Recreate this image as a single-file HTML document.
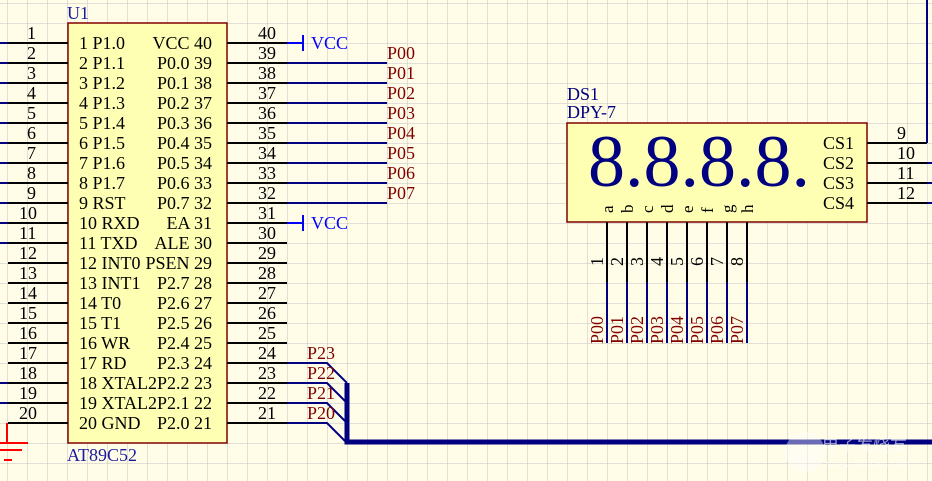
<!DOCTYPE html>
<html><head><meta charset="utf-8"><style>
html,body{margin:0;padding:0;background:#fffde8;}
svg{display:block;}
text{font-family:"Liberation Serif",serif;}
</style></head><body>
<svg width="932" height="481" viewBox="0 0 932 481" xmlns="http://www.w3.org/2000/svg" font-family="Liberation Serif, serif">
<defs>
<pattern id="g" x="7" y="3" width="20" height="20" patternUnits="userSpaceOnUse">
<path d="M0 0H20M0 0V20" stroke="#c4c4c4" stroke-width="1" fill="none"/>
</pattern>
</defs>
<rect width="932" height="481" fill="#fffde8"/>
<rect width="932" height="481" fill="url(#g)"/>

<rect x="68" y="23" width="159" height="420" fill="#ffffb4" stroke="#800000" stroke-width="1.5"/>
<text x="67" y="19" font-size="18" fill="#1a1aa0">U1</text>
<text x="67" y="461" font-size="18" fill="#1a1aa0">AT89C52</text>

<g stroke="#000" stroke-width="2">
<path d="M8 43H68M8 63H68M8 83H68M8 103H68M8 123H68M8 143H68M8 163H68M8 183H68M8 203H68M8 223H68M8 243H68M8 263H68M8 283H68M8 303H68M8 323H68M8 343H68M8 363H68M8 383H68M8 403H68M8 423H68"/>
</g>
<g stroke="#000080" stroke-width="2">
<path d="M0 43H8M0 63H8M0 83H8M0 103H8M0 123H8M0 143H8M0 163H8M0 183H8M0 203H8M0 223H8M0 243H8M0 383H8M0 403H8"/>
</g>
<g font-size="18" fill="#000">
<text x="27" y="39">1</text><text x="27" y="59">2</text><text x="27" y="79">3</text><text x="27" y="99">4</text><text x="27" y="119">5</text><text x="27" y="139">6</text><text x="27" y="159">7</text><text x="27" y="179">8</text><text x="27" y="199">9</text><text x="19" y="219">10</text><text x="19" y="239">11</text><text x="19" y="259">12</text><text x="19" y="279">13</text><text x="19" y="299">14</text><text x="19" y="319">15</text><text x="19" y="339">16</text><text x="19" y="359">17</text><text x="19" y="379">18</text><text x="19" y="399">19</text><text x="19" y="419">20</text>
</g>
<g font-size="18" fill="#000">
<text x="79" y="49">1 P1.0</text><text x="79" y="69">2 P1.1</text><text x="79" y="89">3 P1.2</text><text x="79" y="109">4 P1.3</text><text x="79" y="129">5 P1.4</text><text x="79" y="149">6 P1.5</text><text x="79" y="169">7 P1.6</text><text x="79" y="189">8 P1.7</text><text x="79" y="209">9 RST</text><text x="79" y="229">10 RXD</text><text x="79" y="249">11 TXD</text><text x="79" y="269">12 INT0</text><text x="79" y="289">13 INT1</text><text x="79" y="309">14 T0</text><text x="79" y="329">15 T1</text><text x="79" y="349">16 WR</text><text x="79" y="369">17 RD</text><text x="79" y="389">18 XTAL2</text><text x="79" y="409">19 XTAL2</text><text x="79" y="429">20 GND</text>
</g>
<g font-size="18" fill="#000" text-anchor="end">
<text x="212" y="49">VCC 40</text><text x="212" y="69">P0.0 39</text><text x="212" y="89">P0.1 38</text><text x="212" y="109">P0.2 37</text><text x="212" y="129">P0.3 36</text><text x="212" y="149">P0.4 35</text><text x="212" y="169">P0.5 34</text><text x="212" y="189">P0.6 33</text><text x="212" y="209">P0.7 32</text><text x="212" y="229">EA 31</text><text x="212" y="249">ALE 30</text><text x="212" y="269">PSEN 29</text><text x="212" y="289">P2.7 28</text><text x="212" y="309">P2.6 27</text><text x="212" y="329">P2.5 26</text><text x="212" y="349">P2.4 25</text><text x="212" y="369">P2.3 24</text><text x="212" y="389">P2.2 23</text><text x="212" y="409">P2.1 22</text><text x="212" y="429">P2.0 21</text>
</g>

<g stroke="#000" stroke-width="2">
<path d="M227 43H287M227 63H287M227 83H287M227 103H287M227 123H287M227 143H287M227 163H287M227 183H287M227 203H287M227 223H287M227 243H287M227 263H287M227 283H287M227 303H287M227 323H287M227 343H287M227 363H287M227 383H287M227 403H287M227 423H287"/>
</g>
<g font-size="18" fill="#000">
<text x="258" y="39">40</text><text x="258" y="59">39</text><text x="258" y="79">38</text><text x="258" y="99">37</text><text x="258" y="119">36</text><text x="258" y="139">35</text><text x="258" y="159">34</text><text x="258" y="179">33</text><text x="258" y="199">32</text><text x="258" y="219">31</text><text x="258" y="239">30</text><text x="258" y="259">29</text><text x="258" y="279">28</text><text x="258" y="299">27</text><text x="258" y="319">26</text><text x="258" y="339">25</text><text x="258" y="359">24</text><text x="258" y="379">23</text><text x="258" y="399">22</text><text x="258" y="419">21</text>
</g>
<g stroke="#0000ff" stroke-width="2">
<path d="M287 43H303M303 35V51M287 223H303M303 215V231"/>
</g>
<text x="311" y="49" font-size="18" fill="#0000ff">VCC</text>
<text x="311" y="229" font-size="18" fill="#0000ff">VCC</text>
<g stroke="#000080" stroke-width="2">
<path d="M287 63H387M287 83H387M287 103H387M287 123H387M287 143H387M287 163H387M287 183H387M287 203H387"/>
</g>
<g font-size="18" fill="#800000">
<text x="387" y="59">P00</text><text x="387" y="79">P01</text><text x="387" y="99">P02</text><text x="387" y="119">P03</text><text x="387" y="139">P04</text><text x="387" y="159">P05</text><text x="387" y="179">P06</text><text x="387" y="199">P07</text>
</g>
<g stroke="#000080" stroke-width="2" fill="none">
<path d="M287 363H327L347 383M287 383H327L347 403M287 403H327L347 423M287 423H327L347 443"/>
</g>
<g font-size="18" fill="#800000">
<text x="307" y="359">P23</text><text x="307" y="379">P22</text><text x="307" y="399">P21</text><text x="307" y="419">P20</text>
</g>
<path d="M347 383V442H932" stroke="#000080" stroke-width="5" fill="none"/>

<g stroke="#ff0000" stroke-width="2">
<path d="M7 423V443M0 443H28M0 450H22M4 460H12"/>
</g>

<text x="567" y="100" font-size="18" fill="#000080">DS1</text>
<text x="567" y="118" font-size="18" fill="#000080">DPY-7</text>
<rect x="567" y="123" width="300" height="99" fill="#ffffb4" stroke="#800000" stroke-width="1.5"/>
<text x="588" y="186" font-size="74" fill="#000080" font-family="Liberation Serif, serif" style="font-family:'Liberation Serif',serif;letter-spacing:0px">8.8.8.8.</text>
<g font-size="18" fill="#000">
<text x="823" y="149">CS1</text><text x="823" y="169">CS2</text><text x="823" y="189">CS3</text><text x="823" y="209">CS4</text>
<text x="897" y="139">9</text><text x="897" y="159">10</text><text x="897" y="179">11</text><text x="897" y="199">12</text>
</g>
<g stroke="#000" stroke-width="2">
<path d="M867 143H927M867 163H927M867 183H927M867 203H927"/>
<path d="M607 222V282M627 222V282M647 222V282M667 222V282M687 222V282M707 222V282M727 222V282M747 222V282"/>
</g>
<g stroke="#000080" stroke-width="2">
<path d="M927 0V143M927 163H932M927 183H932M927 203H932"/>
<path d="M607 282V343M627 282V343M647 282V343M667 282V343M687 282V343M707 282V343M727 282V343M747 282V343"/>
</g>
<g font-size="17" fill="#000">
<text transform="translate(613,213) rotate(-90)">a</text>
<text transform="translate(633,213) rotate(-90)">b</text>
<text transform="translate(653,213) rotate(-90)">c</text>
<text transform="translate(673,213) rotate(-90)">d</text>
<text transform="translate(693,213) rotate(-90)">e</text>
<text transform="translate(713,213) rotate(-90)">f</text>
<text transform="translate(733,213) rotate(-90)">g</text>
<text transform="translate(753,213) rotate(-90)">h</text>
</g>
<g font-size="18" fill="#000">
<text transform="translate(603,266) rotate(-90)">1</text>
<text transform="translate(623,266) rotate(-90)">2</text>
<text transform="translate(643,266) rotate(-90)">3</text>
<text transform="translate(663,266) rotate(-90)">4</text>
<text transform="translate(683,266) rotate(-90)">5</text>
<text transform="translate(703,266) rotate(-90)">6</text>
<text transform="translate(723,266) rotate(-90)">7</text>
<text transform="translate(743,266) rotate(-90)">8</text>
</g>
<g font-size="18" fill="#800000">
<text transform="translate(603,344) rotate(-90)">P00</text>
<text transform="translate(623,344) rotate(-90)">P01</text>
<text transform="translate(643,344) rotate(-90)">P02</text>
<text transform="translate(663,344) rotate(-90)">P03</text>
<text transform="translate(683,344) rotate(-90)">P04</text>
<text transform="translate(703,344) rotate(-90)">P05</text>
<text transform="translate(723,344) rotate(-90)">P06</text>
<text transform="translate(743,344) rotate(-90)">P07</text>
</g>

<g opacity="0.6">
<circle cx="805" cy="452" r="20" fill="#ffffff" opacity="0.7"/>
<text x="822" y="451" font-size="17" fill="#ffffff" font-family="Liberation Sans, Noto Sans CJK SC, sans-serif">电子发烧友</text>
<text x="826" y="467" font-size="11" fill="#ffffff" font-family="Liberation Sans, sans-serif">www.elecfans.com</text>
</g>
</svg>
</body></html>
